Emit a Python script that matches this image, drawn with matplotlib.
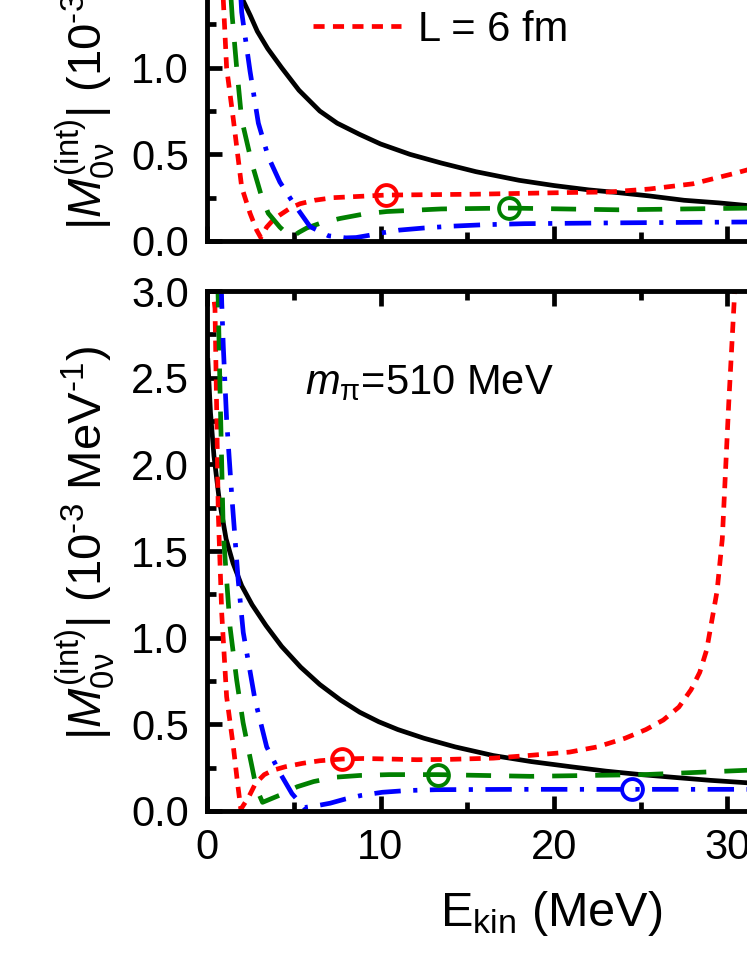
import matplotlib
matplotlib.use("Agg")
from matplotlib import pyplot as plt
from matplotlib.ticker import MultipleLocator, FormatStrFormatter
from matplotlib.lines import Line2D

plt.rcParams["font.family"] = ["Liberation Sans", "DejaVu Sans"]
plt.rcParams["mathtext.fontset"] = "custom"
plt.rcParams["mathtext.rm"] = "Liberation Sans"
plt.rcParams["mathtext.it"] = "Liberation Sans:italic"
plt.rcParams["mathtext.bf"] = "Liberation Sans:bold"
plt.rcParams["lines.scale_dashes"] = False

# ---- bottom panel (m_pi = 510 MeV) ----
E_black_b = [0.05, 0.2, 0.4, 0.7, 1.1, 1.5, 2.0, 2.6, 3.4, 4.3, 5.4, 6.5, 7.7, 8.8, 9.9, 11, 12.5,
             14.3, 16.5, 18.7, 21, 23, 25, 27.4, 29, 31.1, 33]
M_black_b = [2.6, 2.3, 2.05, 1.8, 1.57, 1.43, 1.30, 1.19, 1.07, 0.95, 0.83, 0.73, 0.64, 0.57, 0.515, 0.47, 0.42,
             0.37, 0.32, 0.285, 0.255, 0.23, 0.21, 0.19, 0.177, 0.163, 0.155]

E_red_b = [0.3, 0.46, 0.56, 0.65, 0.85, 1.13, 1.52, 1.75, 1.95, 2.4, 2.8, 3.3, 3.8, 4.5, 5.5, 6.5, 7.8,
           9, 10.5, 12.1, 14, 16.5, 18.5, 20.9, 22.5, 24.1, 25.3, 26.3, 27.2, 27.9, 28.4, 28.8,
           29.4, 29.7, 30.07, 30.4, 30.5]
M_red_b = [3.05, 2.9, 2.3, 1.72, 1.14, 0.66, 0.37, 0.17, 0.01, 0.08, 0.16, 0.21, 0.235, 0.255, 0.275, 0.29, 0.30,
           0.303, 0.30, 0.296, 0.298, 0.305, 0.32, 0.34, 0.37, 0.42, 0.47, 0.525, 0.60, 0.70, 0.80, 0.93,
           1.27, 1.57, 2.35, 2.97, 3.2]

E_green_b = [0.62, 0.65, 0.75, 0.94, 1.33, 1.71, 2.08, 2.48, 2.85, 3.2, 3.8, 4.4, 5.2, 6.15, 7.4, 8.8, 10.5,
             13.3, 18.66, 25.2, 31.1, 32]
M_green_b = [3.05, 2.93, 2.43, 1.6, 1.06, 0.756, 0.51, 0.31, 0.13, 0.05, 0.075, 0.10, 0.14, 0.17, 0.195, 0.205,
             0.21, 0.21, 0.20, 0.21, 0.235, 0.24]

E_blue_b = [0.82, 0.85, 0.94, 1.13, 1.42, 1.8, 2.09, 2.77, 3.44, 4.2, 4.9, 5.6, 6.3, 7.1, 8.0, 8.9, 10.1,
            11.5, 13.2, 18, 24.5, 32]
M_blue_b = [3.05, 2.93, 2.68, 2.26, 1.83, 1.33, 1.03, 0.64, 0.37, 0.22, 0.10, 0.02, 0.03, 0.045, 0.07, 0.09,
            0.108, 0.118, 0.123, 0.125, 0.125, 0.125]

mark_E_b = [7.8, 13.3, 24.5]
mark_M_b = [0.30, 0.21, 0.125]

# ---- top panel ----
E_black_t = [0.5, 0.8, 1.4, 2.07, 2.5, 2.9, 3.5, 4.3, 5.3, 6.5, 7.5, 8.8, 10, 11.7, 13.5, 15.5, 18, 20,
             22, 23.6, 25.5, 27.5, 29.5, 31.1, 33]
M_black_t = [3.0, 2.4, 1.75, 1.39, 1.30, 1.21, 1.11, 1.0, 0.87, 0.75, 0.68, 0.615, 0.56, 0.50, 0.45, 0.40,
             0.35, 0.32, 0.295, 0.28, 0.26, 0.235, 0.22, 0.205, 0.195]

E_red_t = [0.3, 0.6, 0.94, 1.13, 1.52, 2.0, 2.48, 2.86, 3.1, 3.44, 3.8, 4.2, 4.8, 5.36, 6.2, 7.27, 10.3,
           15.5, 21, 23.2, 25.5, 28, 30.4, 31.5]
M_red_t = [3.0, 2.2, 1.39, 1.0, 0.70, 0.31, 0.16, 0.063, 0.02, 0.08, 0.12, 0.15, 0.19, 0.215, 0.235, 0.25,
           0.265, 0.27, 0.28, 0.283, 0.30, 0.33, 0.39, 0.42]

E_green_t = [0.7, 1.0, 1.45, 1.71, 2.0, 2.58, 3.15, 3.53, 4.2, 4.85, 5.3, 5.75, 6.6, 7.67, 9, 10.36, 13.5,
             17.4, 23.7, 31.5]
M_green_t = [3.0, 2.0, 1.3, 1.0, 0.70, 0.45, 0.255, 0.16, 0.08, 0.02, 0.05, 0.075, 0.105, 0.13, 0.155, 0.17,
             0.185, 0.19, 0.18, 0.19]

E_blue_t = [1.1, 1.6, 2.0, 2.48, 2.96, 3.53, 4.2, 4.97, 5.94, 7.0, 8.0, 8.6, 9.3, 9.97, 11.1, 12.5, 14,
            16, 18.3, 24, 31.5]
M_blue_t = [3.0, 2.0, 1.32, 0.98, 0.68, 0.486, 0.34, 0.22, 0.083, 0.03, 0.018, 0.02, 0.032, 0.045, 0.063,
            0.075, 0.085, 0.094, 0.10, 0.105, 0.11]

mark_E_t = [10.3, 17.4]
mark_M_t = [0.265, 0.19]

colors = ["#ff0000", "#008000", "#0000ff"]
red_ls = (0, (8, 6))
green_ls = (0, (18, 13))
blue_ls = (0, (19, 9, 3, 9))
LW = 3.4

fig = plt.figure(figsize=(7.47, 9.67), dpi=100)
W, H = 747.0, 967.0
PX_Y = 173.3  # pixels per unit on the y axis
x0 = 207 / W
wid = 40 * 17.35 / W
ax_b = fig.add_axes([x0, (H - 811) / H, wid, 3.0 * PX_Y / H])
ax_t = fig.add_axes([x0, (H - 241) / H, wid, 2.5 * PX_Y / H])

ylab = r"$|M^{(\mathrm{int})}_{\mathrm{0\nu}}|$ (10$^{\text{-3}}$ MeV$^{\text{-1}}$)"


def style(ax, ymax, show_xlabels, label_y):
    ax.set_xlim(0, 40)
    ax.set_ylim(0, ymax)
    ax.xaxis.set_major_locator(MultipleLocator(10))
    ax.xaxis.set_minor_locator(MultipleLocator(5))
    ax.yaxis.set_major_locator(MultipleLocator(0.5))
    ax.yaxis.set_minor_locator(MultipleLocator(0.25))
    ax.tick_params(which="both", direction="in", top=True, right=True, width=3.4)
    ax.tick_params(which="major", length=11)
    ax.tick_params(which="minor", length=6.5)
    ax.tick_params(axis="y", labelsize=30, pad=13)
    ax.tick_params(axis="x", labelsize=30, pad=12, labelbottom=show_xlabels)
    ax.yaxis.set_major_formatter(FormatStrFormatter("%.1f"))
    for s in ax.spines.values():
        s.set_linewidth(3.5)
    ax.set_ylabel(ylab, fontsize=34)
    ax.yaxis.set_label_coords(-0.13, label_y)


def draw(ax, Eb, Mb, Er, Mr, Eg, Mg, Eu, Mu, mE, mM):
    ax.plot(Eb, Mb, color="black", lw=LW)
    ax.plot(Er, Mr, color=colors[0], lw=LW, linestyle=red_ls)
    ax.plot(Eg, Mg, color=colors[1], lw=LW, linestyle=green_ls)
    ax.plot(Eu, Mu, color=colors[2], lw=LW, linestyle=blue_ls)
    for e, m, c in zip(mE, mM, colors):
        ax.plot([e], [m], marker="o", ms=15, mfc="none", mec=c, mew=2.8)


draw(ax_b, E_black_b, M_black_b, E_red_b, M_red_b, E_green_b, M_green_b,
     E_blue_b, M_blue_b, mark_E_b, mark_M_b)
draw(ax_t, E_black_t, M_black_t, E_red_t, M_red_t, E_green_t, M_green_t,
     E_blue_t, M_blue_t, mark_E_t, mark_M_t)

style(ax_b, 3.0, True, 0.515)
style(ax_t, 2.5, False, 0.48)
ax_b.set_xlabel(r"E$_{\mathrm{kin}}$ (MeV)", fontsize=35)
ax_b.xaxis.set_label_coords((551 - 207) / (40 * 17.35), -0.15)

ax_b.text(0.141, 0.823, r"$m_{\mathrm{\pi}}$=510 MeV", transform=ax_b.transAxes,
          fontsize=30, va="center", ha="left")

h = Line2D([], [], color=colors[0], lw=LW, linestyle=red_ls)
ax_t.legend([h], ["L = 6 fm"], loc="center left", bbox_to_anchor=(313 / W, 1 - 30 / H),
            bbox_transform=fig.transFigure, frameon=False, fontsize=30,
            handlelength=2.1, handletextpad=0.43, borderpad=0, borderaxespad=0)

fig.savefig("out.png", dpi=100)
